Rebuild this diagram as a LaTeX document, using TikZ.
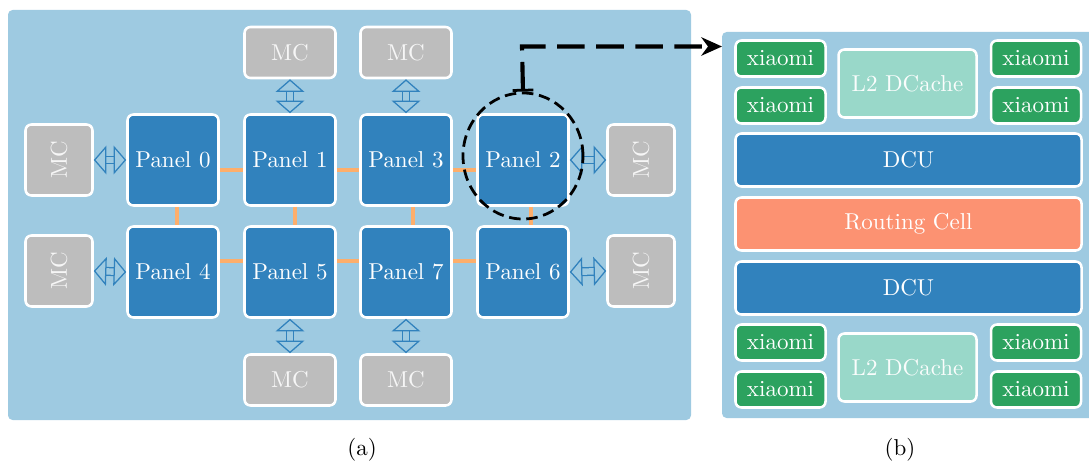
\documentclass[tikz,border=0pt]{standalone}
\usetikzlibrary{arrows.meta,shapes.geometric}
\definecolor{bgblue}{HTML}{9ECAE1}
\definecolor{panelblue}{HTML}{3182BD}
\definecolor{mcgray}{HTML}{BDBDBD}
\definecolor{linkorange}{HTML}{FDAE6B}
\definecolor{xgreen}{HTML}{2CA25F}
\definecolor{cacheteal}{HTML}{99D8C9}
\definecolor{routesalmon}{HTML}{FC9272}
\newcommand\uu{0.435pt}
\tikzset{
  box/.style={draw=white, line width=1.1pt, rounded corners=2.6pt, text=white, inner sep=0pt, font=\normalsize},
  panelbox/.style={box, fill=panelblue, minimum width=91*\uu, minimum height=91*\uu},
  mcwide/.style={box, fill=mcgray, minimum width=91*\uu, minimum height=51*\uu, text=white!93!gray},
  mctall/.style={box, fill=mcgray, minimum width=67*\uu, minimum height=71*\uu, text=white!93!gray},
  xbox/.style={box, fill=xgreen, minimum width=90*\uu, minimum height=36*\uu},
  cachebox/.style={box, fill=cacheteal, minimum width=138*\uu, minimum height=68*\uu, text=white!95!cacheteal},
  barbox/.style={box, minimum width=346*\uu, minimum height=53*\uu},
  link/.style={draw=linkorange, line width=1.7pt},
  dbl/.style={draw=panelblue, line width=0.55pt, double=bgblue, double distance=2.8pt,
    {Triangle[open,length=5.5pt,width=12.5pt]}-{Triangle[open,length=5.5pt,width=12.5pt]}},
}
\begin{document}
\begin{tikzpicture}[x=\uu, y=-\uu]
\useasboundingbox (0,0) rectangle (1089,463);
% backgrounds
\fill[bgblue, rounded corners=2pt] (8,10) rectangle (691,420);
\fill[bgblue, rounded corners=2pt] (722,32) rectangle (1100,418);

% panels
\node[panelbox] (p0) at (173,160) {Panel 0};
\node[panelbox] (p1) at (290,160) {Panel 1};
\node[panelbox] (p3) at (406,160) {Panel 3};
\node[panelbox] (p2) at (523,160) {Panel 2};
\node[panelbox] (p4) at (173,272) {Panel 4};
\node[panelbox] (p5) at (290,272) {Panel 5};
\node[panelbox] (p7) at (406,272) {Panel 7};
\node[panelbox] (p6) at (523,272) {Panel 6};

% memory controllers
\node[mcwide] (mt1) at (290,52.5) {MC};
\node[mcwide] (mt3) at (406,52.5) {MC};
\node[mcwide] (mb5) at (290,380) {MC};
\node[mcwide] (mb7) at (406,380) {MC};
\node[mctall] (ml0) at (59,160) {\rotatebox{90}{MC}};
\node[mctall] (ml4) at (59,271) {\rotatebox{90}{MC}};
\node[mctall] (mr2) at (641,160) {\rotatebox{90}{MC}};
\node[mctall] (mr6) at (641,271) {\rotatebox{90}{MC}};

% orange links
\draw[link] ([yshift=-4.3pt]p0.east) -- ([yshift=-4.3pt]p1.west);
\draw[link] ([yshift=-4.3pt]p1.east) -- ([yshift=-4.3pt]p3.west);
\draw[link] ([yshift=-4.3pt]p3.east) -- ([yshift=-4.3pt]p2.west);
\draw[link] ([yshift=4.8pt]p4.east) -- ([yshift=4.8pt]p5.west);
\draw[link] ([yshift=4.8pt]p5.east) -- ([yshift=4.8pt]p7.west);
\draw[link] ([yshift=4.8pt]p7.east) -- ([yshift=4.8pt]p6.west);
\draw[link] ([xshift=1.8pt]p0.south) -- ([xshift=1.8pt]p4.north);
\draw[link] ([xshift=2.2pt]p1.south) -- ([xshift=2.2pt]p5.north);
\draw[link] ([xshift=3pt]p3.south) -- ([xshift=3pt]p7.north);
\draw[link] ([xshift=3.3pt]p2.south) -- ([xshift=3.3pt]p6.north);

% double arrows
\draw[dbl] (ml0.east) -- (p0.west);
\draw[dbl] (ml4.east) -- (p4.west);
\draw[dbl] (p2.east) -- (mr2.west);
\draw[dbl] (p6.east) -- (mr6.west);
\draw[dbl] (mt1.south) -- (p1.north);
\draw[dbl] (mt3.south) -- (p3.north);
\draw[dbl] (p5.south) -- (mb5.north);
\draw[dbl] (p7.south) -- (mb7.north);

% highlight circle and zoom arrow
\node[draw=black, line width=1.2pt, dash pattern=on 5pt off 2.5pt, ellipse,
      minimum width=120*\uu, minimum height=126*\uu, inner sep=0pt] (zoom) at (523,156) {};
\coordinate (bend) at (522,46.5);

% right detail (b)
\node[xbox] (x1) at (780.5,58.5) {xiaomi};
\node[xbox] (x2) at (780.5,105.5) {xiaomi};
\node[xbox] (x3) at (1036,58.5) {xiaomi};
\node[xbox] (x4) at (1036,105.5) {xiaomi};
\node[cachebox] (c1) at (907.5,83.5) {L2 DCache};
\node[barbox, fill=panelblue] (dcu1) at (908.5,160) {DCU};
\node[barbox, fill=routesalmon] (rc) at (908.5,224) {Routing Cell};
\node[barbox, fill=panelblue] (dcu2) at (908.5,288) {DCU};
\node[xbox] (x5) at (780.5,342.5) {xiaomi};
\node[xbox] (x6) at (780.5,389.5) {xiaomi};
\node[xbox] (x7) at (1036,342.5) {xiaomi};
\node[xbox] (x8) at (1036,389.5) {xiaomi};
\node[cachebox] (c2) at (907.5,367.5) {L2 DCache};
\coordinate (rtarget) at (722,46.5);

\draw[black, line width=1.8pt, dash pattern=on 12pt off 5pt,
      {Bar[width=9pt,line width=1.2pt]}-{Stealth[length=9pt,width=8pt]}]
  (zoom.north) -- (bend) -- (rtarget);

% captions
\node (capa) at (362,450) {(a)};
\node (capb) at (900,450) {(b)};
\end{tikzpicture}
\end{document}
